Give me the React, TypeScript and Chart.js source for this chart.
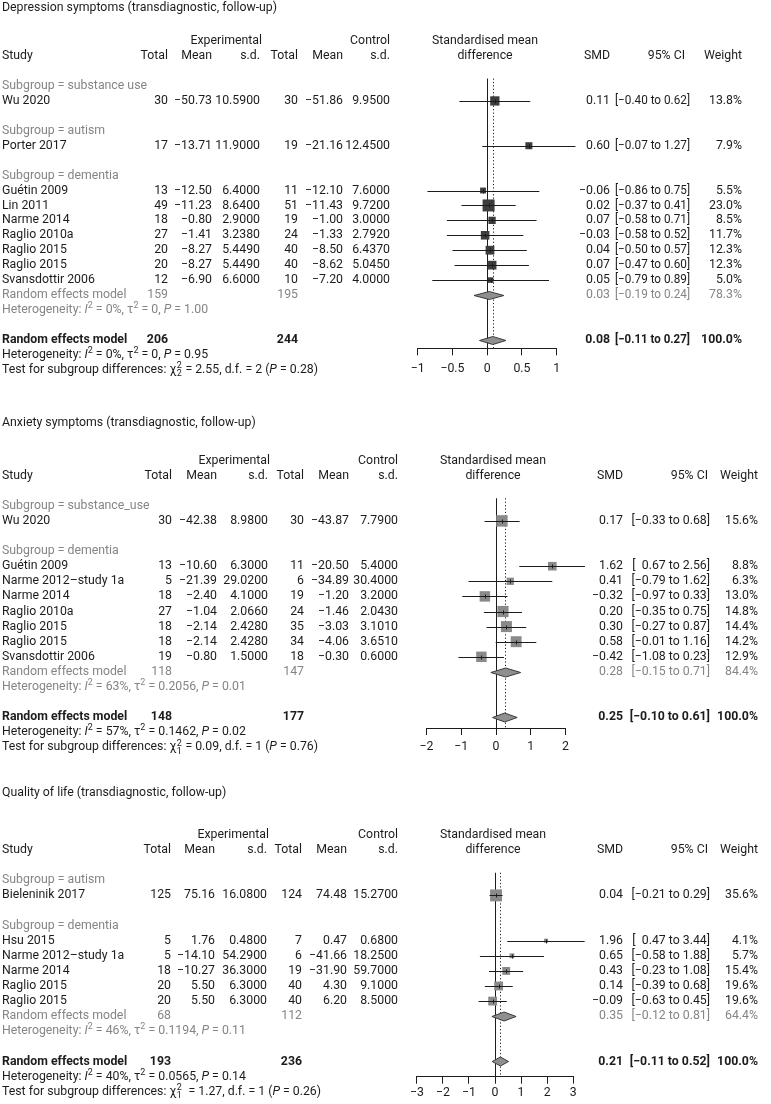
import React, { useEffect, useRef } from "react";
import { Chart, registerables } from "chart.js";
Chart.register(...registerables);

const FONT = "Roboto, 'Open Sans', sans-serif";
const FS = 12.3;
const BLACK = "#1c1c1c";
const GRAY = "#858585";

// ---------------- Depression symptoms ----------------
const depTitle = "Depression symptoms (transdiagnostic, follow-up)";
const depStudy = ["Wu 2020", "Porter 2017", "Guétin 2009", "Lin 2011", "Narme 2014", "Raglio 2010a", "Raglio 2015", "Raglio 2015", "Svansdottir 2006"];
const depGroup = ["substance use", "autism", "dementia", "dementia", "dementia", "dementia", "dementia", "dementia", "dementia"];
const depExpN = [30, 17, 13, 49, 18, 27, 20, 20, 12];
const depExpMean = [-50.73, -13.71, -12.5, -11.23, -0.8, -1.41, -8.27, -8.27, -6.9];
const depExpSD = [10.59, 11.9, 6.4, 8.64, 2.9, 3.238, 5.449, 5.449, 6.6];
const depCtlN = [30, 19, 11, 51, 19, 24, 40, 40, 10];
const depCtlMean = [-51.86, -21.16, -12.1, -11.43, -1.0, -1.33, -8.5, -8.62, -7.2];
const depCtlSD = [9.95, 12.45, 7.6, 9.72, 3.0, 2.792, 6.437, 5.045, 4.0];
const depSMD = [0.11, 0.6, -0.06, 0.02, 0.07, -0.03, 0.04, 0.07, 0.05];
const depLo = [-0.4, -0.07, -0.86, -0.37, -0.58, -0.58, -0.5, -0.47, -0.79];
const depHi = [0.62, 1.27, 0.75, 0.41, 0.71, 0.52, 0.57, 0.6, 0.89];
const depW = [13.8, 7.9, 5.5, 23.0, 8.5, 11.7, 12.3, 12.3, 5.0];
const depSubName = ["dementia"];
const depSubExpN = [159];
const depSubCtlN = [195];
const depSubSMD = [0.03];
const depSubLo = [-0.19];
const depSubHi = [0.24];
const depSubW = [78.3];
const depSubI2 = ["0%"];
const depSubTau2 = ["0"];
const depSubP = ["1.00"];
const depAll = [206, 244];
const depAllCI = [0.08, -0.11, 0.27, 100.0];
const depAllHet = ["0%", "0", "0.95"];
const depTest = ["2.55", "2", "0.28"];
const depTicks = [-1, -0.5, 0, 0.5, 1];

// ---------------- Anxiety symptoms ----------------
const anxTitle = "Anxiety symptoms (transdiagnostic, follow-up)";
const anxStudy = ["Wu 2020", "Guétin 2009", "Narme 2012\u2013study 1a", "Narme 2014", "Raglio 2010a", "Raglio 2015", "Raglio 2015", "Svansdottir 2006"];
const anxGroup = ["substance_use", "dementia", "dementia", "dementia", "dementia", "dementia", "dementia", "dementia"];
const anxExpN = [30, 13, 5, 18, 27, 18, 18, 19];
const anxExpMean = [-42.38, -10.6, -21.39, -2.4, -1.04, -2.14, -2.14, -0.8];
const anxExpSD = [8.98, 6.3, 29.02, 4.1, 2.066, 2.428, 2.428, 1.5];
const anxCtlN = [30, 11, 6, 19, 24, 35, 34, 18];
const anxCtlMean = [-43.87, -20.5, -34.89, -1.2, -1.46, -3.03, -4.06, -0.3];
const anxCtlSD = [7.79, 5.4, 30.4, 3.2, 2.043, 3.101, 3.651, 0.6];
const anxSMD = [0.17, 1.62, 0.41, -0.32, 0.2, 0.3, 0.58, -0.42];
const anxLo = [-0.33, 0.67, -0.79, -0.97, -0.35, -0.27, -0.01, -1.08];
const anxHi = [0.68, 2.56, 1.62, 0.33, 0.75, 0.87, 1.16, 0.23];
const anxW = [15.6, 8.8, 6.3, 13.0, 14.8, 14.4, 14.2, 12.9];
const anxSubName = ["dementia"];
const anxSubExpN = [118];
const anxSubCtlN = [147];
const anxSubSMD = [0.28];
const anxSubLo = [-0.15];
const anxSubHi = [0.71];
const anxSubW = [84.4];
const anxSubI2 = ["63%"];
const anxSubTau2 = ["0.2056"];
const anxSubP = ["0.01"];
const anxAll = [148, 177];
const anxAllCI = [0.25, -0.1, 0.61, 100.0];
const anxAllHet = ["57%", "0.1462", "0.02"];
const anxTest = ["0.09", "1", "0.76"];
const anxTicks = [-2, -1, 0, 1, 2];

// ---------------- Quality of life ----------------
const qolTitle = "Quality of life (transdiagnostic, follow-up)";
const qolStudy = ["Bieleninik 2017", "Hsu 2015", "Narme 2012\u2013study 1a", "Narme 2014", "Raglio 2015", "Raglio 2015"];
const qolGroup = ["autism", "dementia", "dementia", "dementia", "dementia", "dementia"];
const qolExpN = [125, 5, 5, 18, 20, 20];
const qolExpMean = [75.16, 1.76, -14.1, -10.27, 5.5, 5.5];
const qolExpSD = [16.08, 0.48, 54.29, 36.3, 6.3, 6.3];
const qolCtlN = [124, 7, 6, 19, 40, 40];
const qolCtlMean = [74.48, 0.47, -41.66, -31.9, 4.3, 6.2];
const qolCtlSD = [15.27, 0.68, 18.25, 59.7, 9.1, 8.5];
const qolSMD = [0.04, 1.96, 0.65, 0.43, 0.14, -0.09];
const qolLo = [-0.21, 0.47, -0.58, -0.23, -0.39, -0.63];
const qolHi = [0.29, 3.44, 1.88, 1.08, 0.68, 0.45];
const qolW = [35.6, 4.1, 5.7, 15.4, 19.6, 19.6];
const qolSubName = ["dementia"];
const qolSubExpN = [68];
const qolSubCtlN = [112];
const qolSubSMD = [0.35];
const qolSubLo = [-0.12];
const qolSubHi = [0.81];
const qolSubW = [64.4];
const qolSubI2 = ["46%"];
const qolSubTau2 = ["0.1194"];
const qolSubP = ["0.11"];
const qolAll = [193, 236];
const qolAllCI = [0.21, -0.11, 0.52, 100.0];
const qolAllHet = ["40%", "0.0565", "0.14"];
const qolTest = ["1.27", "1", "0.26"];
const qolTicks = [-3, -2, -1, 0, 1, 2, 3];

// ---------------- assembled tables ----------------
const PANELS = [
  { title: depTitle, study: depStudy, group: depGroup, eN: depExpN, eM: depExpMean, eSD: depExpSD, cN: depCtlN, cM: depCtlMean, cSD: depCtlSD, smd: depSMD, lo: depLo, hi: depHi, w: depW,
    subName: depSubName, subEN: depSubExpN, subCN: depSubCtlN, subSMD: depSubSMD, subLo: depSubLo, subHi: depSubHi, subW: depSubW, subI2: depSubI2, subTau2: depSubTau2, subP: depSubP,
    all: depAll, allCI: depAllCI, allHet: depAllHet, test: depTest, ticks: depTicks, testGap: "" },
  { title: anxTitle, study: anxStudy, group: anxGroup, eN: anxExpN, eM: anxExpMean, eSD: anxExpSD, cN: anxCtlN, cM: anxCtlMean, cSD: anxCtlSD, smd: anxSMD, lo: anxLo, hi: anxHi, w: anxW,
    subName: anxSubName, subEN: anxSubExpN, subCN: anxSubCtlN, subSMD: anxSubSMD, subLo: anxSubLo, subHi: anxSubHi, subW: anxSubW, subI2: anxSubI2, subTau2: anxSubTau2, subP: anxSubP,
    all: anxAll, allCI: anxAllCI, allHet: anxAllHet, test: anxTest, ticks: anxTicks, testGap: "" },
  { title: qolTitle, study: qolStudy, group: qolGroup, eN: qolExpN, eM: qolExpMean, eSD: qolExpSD, cN: qolCtlN, cM: qolCtlMean, cSD: qolCtlSD, smd: qolSMD, lo: qolLo, hi: qolHi, w: qolW,
    subName: qolSubName, subEN: qolSubExpN, subCN: qolSubCtlN, subSMD: qolSubSMD, subLo: qolSubLo, subHi: qolSubHi, subW: qolSubW, subI2: qolSubI2, subTau2: qolSubTau2, subP: qolSubP,
    all: qolAll, allCI: qolAllCI, allHet: qolAllHet, test: qolTest, ticks: qolTicks, testGap: " " },
];

// layout (pixels, absolute page coordinates)
const LAYOUTS = [
  { top: 0, height: 395, titleY: 8, row0: 86, unit: 14.93, axisY: 348.3, xL: 417.7, xR: 556.7, tickPad: 6,
    cols: [168, 212, 260, 298, 343, 390], smdHdrX: 485, smdX: 610, ciHdrX: 685, ciX: 690, wX: 742, box: 2.5, boxColor: "#3d3d3d", dH: 4 },
  { top: 395, height: 370, titleY: 423, row0: 505.8, unit: 15.1, axisY: 728, xL: 426.5, xR: 565.5, tickPad: 5,
    cols: [172, 217, 268, 304, 349, 398], smdHdrX: 493, smdX: 623, ciHdrX: 708, ciX: 710, wX: 758, box: 2.9, boxColor: "#8a8a8a", dH: 4.5 },
  { top: 765, height: 339, titleY: 793, row0: 880.3, unit: 15.1, axisY: 1076.7, xL: 416.85, xR: 573.15, tickPad: 2,
    cols: [171, 215, 267, 302, 347, 398], smdHdrX: 493, smdX: 623, ciHdrX: 708, ciX: 710, wX: 758, box: 2.0, boxColor: "#8a8a8a", dH: 4.5 },
];

const minus = (s: string) => s.replace(/-/g, "\u2212");
const f2 = (v: number) => minus(v.toFixed(2));
const f4 = (v: number) => minus(v.toFixed(4));
const fci = (lo: number, hi: number) => `[${lo >= 0 ? "\u2002" : ""}${f2(lo)} to ${f2(hi)}]`;
const fw = (w: number) => w.toFixed(1) + "%";

type Row =
  | { k: "group"; label: string }
  | { k: "study"; i: number }
  | { k: "blank" }
  | { k: "sub"; j: number }
  | { k: "subhet"; j: number }
  | { k: "all" }
  | { k: "allhet" }
  | { k: "test" };

function buildRows(groups: string[], subNames: string[]): Row[] {
  const order: string[] = [];
  groups.forEach((g) => { if (!order.includes(g)) order.push(g); });
  const rows: Row[] = [];
  order.forEach((g) => {
    rows.push({ k: "group", label: g });
    groups.forEach((gg, i) => { if (gg === g) rows.push({ k: "study", i }); });
    const j = subNames.indexOf(g);
    if (j >= 0) { rows.push({ k: "sub", j }); rows.push({ k: "subhet", j }); }
    rows.push({ k: "blank" });
  });
  rows.push({ k: "all" }, { k: "allhet" }, { k: "test" });
  return rows;
}

type Seg = { t?: string; it?: boolean; sup?: boolean; ss?: [string, string] };

function fontStr(size: number, bold = false, italic = false) {
  return `${italic ? "italic " : ""}${bold ? "bold " : ""}${size}px ${FONT}`;
}

function drawText(ctx: CanvasRenderingContext2D, text: string, x: number, y: number, align: CanvasTextAlign, color: string, bold = false, maxW?: number) {
  ctx.font = fontStr(FS, bold);
  ctx.fillStyle = color;
  ctx.textAlign = align;
  ctx.textBaseline = "middle";
  if (maxW) ctx.fillText(text, x, y, maxW);
  else ctx.fillText(text, x, y);
}

function drawRich(ctx: CanvasRenderingContext2D, segs: Seg[], x: number, y: number, color: string) {
  let cx = x;
  ctx.fillStyle = color;
  ctx.textAlign = "left";
  ctx.textBaseline = "middle";
  const small = Math.round(FS * 0.72);
  for (const s of segs) {
    if (s.ss) {
      ctx.font = fontStr(small);
      ctx.fillText(s.ss[0], cx + 0.5, y - FS * 0.33);
      ctx.fillText(s.ss[1], cx + 0.5, y + FS * 0.33);
      cx += Math.max(ctx.measureText(s.ss[0]).width, ctx.measureText(s.ss[1]).width) + 1;
    } else if (s.sup) {
      ctx.font = fontStr(small);
      ctx.fillText(s.t!, cx, y - FS * 0.33);
      cx += ctx.measureText(s.t!).width;
    } else {
      ctx.font = fontStr(FS, false, !!s.it);
      ctx.fillText(s.t!, cx, y);
      cx += ctx.measureText(s.t!).width;
    }
  }
}

const hetSegs = (i2: string, t2: string, p: string): Seg[] => [
  { t: "Heterogeneity: " }, { t: "I", it: true }, { t: "2", sup: true }, { t: ` = ${i2}, \u03c4` }, { t: "2", sup: true },
  { t: ` = ${t2}, ` }, { t: "P", it: true }, { t: ` = ${p}` },
];
const testSegs = (chi: string, df: string, p: string, gap: string): Seg[] => [
  { t: "Test for subgroup differences: \u03c7" }, { ss: ["2", df] }, { t: `${gap} = ${chi}, d.f. = ${df} (` }, { t: "P", it: true }, { t: ` = ${p})` },
];

function ForestPanel({ idx }: { idx: number }) {
  const ref = useRef<HTMLCanvasElement | null>(null);
  useEffect(() => {
    const P = PANELS[idx];
    const L = LAYOUTS[idx];
    const rows = buildRows(P.group, P.subName);
    const rowOf = (pred: (r: Row) => boolean) => rows.findIndex(pred);
    const yMax = (L.axisY - L.row0) / L.unit;
    const xMin = P.ticks[0];
    const xMax = P.ticks[P.ticks.length - 1];
    const AX_H = 24;
    const local = (abs: number) => abs - L.top;
    const ciMax = L.ciX - L.smdX - 5;

    const boxData = P.study.map((_, i) => ({ x: P.smd[i], y: rowOf((r) => r.k === "study" && r.i === i) }));
    const boxRadius = P.w.map((w) => (L.box * Math.sqrt(w)) / Math.SQRT2);

    const forestPlugin = {
      id: "forest",
      beforeDatasetsDraw(chart: any) {
        const { ctx, chartArea, scales } = chart;
        const xs = scales.x;
        ctx.save();
        const x0 = Math.round(xs.getPixelForValue(0)) + 0.5;
        ctx.strokeStyle = BLACK;
        ctx.lineWidth = 1;
        ctx.beginPath();
        ctx.moveTo(x0, chartArea.top);
        ctx.lineTo(x0, chartArea.bottom);
        ctx.stroke();
        const xe = Math.round(xs.getPixelForValue(P.allCI[0])) + 0.5;
        ctx.setLineDash([1.2, 2.2]);
        ctx.beginPath();
        ctx.moveTo(xe, chartArea.top);
        ctx.lineTo(xe, chartArea.bottom);
        ctx.stroke();
        ctx.restore();
      },
      afterDatasetsDraw(chart: any) {
        const { ctx, scales } = chart;
        const xs = scales.x;
        const ys = scales.y;
        ctx.save();
        ctx.strokeStyle = BLACK;
        ctx.lineWidth = 1;
        rows.forEach((r, ri) => {
          const y = Math.round(ys.getPixelForValue(ri)) + 0.5;
          if (r.k === "study") {
            const i = r.i;
            ctx.beginPath();
            ctx.moveTo(xs.getPixelForValue(P.lo[i]), y);
            ctx.lineTo(xs.getPixelForValue(P.hi[i]), y);
            const xm = Math.round(xs.getPixelForValue(P.smd[i])) + 0.5;
            ctx.moveTo(xm, y - 2);
            ctx.lineTo(xm, y + 2);
            ctx.stroke();
          } else if (r.k === "sub" || r.k === "all") {
            const est = r.k === "sub" ? P.subSMD[r.j] : P.allCI[0];
            const lo = r.k === "sub" ? P.subLo[r.j] : P.allCI[1];
            const hi = r.k === "sub" ? P.subHi[r.j] : P.allCI[2];
            ctx.beginPath();
            ctx.moveTo(xs.getPixelForValue(lo), y);
            ctx.lineTo(xs.getPixelForValue(est), y - L.dH);
            ctx.lineTo(xs.getPixelForValue(hi), y);
            ctx.lineTo(xs.getPixelForValue(est), y + L.dH);
            ctx.closePath();
            ctx.fillStyle = "#8f8f8f";
            ctx.fill();
            ctx.strokeStyle = "#3a3a3a";
            ctx.stroke();
            ctx.strokeStyle = BLACK;
          }
        });
        ctx.restore();
      },
      afterDraw(chart: any) {
        const { ctx, scales } = chart;
        const ys = scales.y;
        const C = L.cols;
        ctx.save();
        const yr = (r: number) => ys.getPixelForValue(r);
        drawText(ctx, P.title, 2, local(L.titleY), "left", BLACK);
        const h1 = yr(-3), h2 = yr(-2);
        drawText(ctx, "Experimental", C[2] + 2, h1, "right", BLACK);
        drawText(ctx, "Control", C[5], h1, "right", BLACK);
        drawText(ctx, "Standardised mean", L.smdHdrX, h1, "center", BLACK);
        drawText(ctx, "Study", 2, h2, "left", BLACK);
        drawText(ctx, "Total", C[0], h2, "right", BLACK);
        drawText(ctx, "Mean", C[1], h2, "right", BLACK);
        drawText(ctx, "s.d.", C[2], h2, "right", BLACK);
        drawText(ctx, "Total", C[3], h2, "right", BLACK);
        drawText(ctx, "Mean", C[4], h2, "right", BLACK);
        drawText(ctx, "s.d.", C[5], h2, "right", BLACK);
        drawText(ctx, "difference", L.smdHdrX, h2, "center", BLACK);
        drawText(ctx, "SMD", L.smdX, h2, "right", BLACK);
        drawText(ctx, "95% CI", L.ciHdrX, h2, "right", BLACK);
        drawText(ctx, "Weight", L.wX, h2, "right", BLACK);

        rows.forEach((r, ri) => {
          const y = yr(ri);
          if (r.k === "group") {
            drawText(ctx, `Subgroup = ${r.label}`, 2, y, "left", GRAY);
          } else if (r.k === "study") {
            const i = r.i;
            drawText(ctx, P.study[i], 2, y, "left", BLACK);
            drawText(ctx, String(P.eN[i]), C[0], y, "right", BLACK);
            drawText(ctx, f2(P.eM[i]), C[1], y, "right", BLACK);
            drawText(ctx, f4(P.eSD[i]), C[2], y, "right", BLACK);
            drawText(ctx, String(P.cN[i]), C[3], y, "right", BLACK);
            drawText(ctx, f2(P.cM[i]), C[4], y, "right", BLACK);
            drawText(ctx, f4(P.cSD[i]), C[5], y, "right", BLACK);
            drawText(ctx, f2(P.smd[i]), L.smdX, y, "right", BLACK);
            drawText(ctx, fci(P.lo[i], P.hi[i]), L.ciX, y, "right", BLACK, false, ciMax);
            drawText(ctx, fw(P.w[i]), L.wX, y, "right", BLACK);
          } else if (r.k === "sub") {
            const j = r.j;
            drawText(ctx, "Random effects model", 2, y, "left", GRAY);
            drawText(ctx, String(P.subEN[j]), C[0], y, "right", GRAY);
            drawText(ctx, String(P.subCN[j]), C[3], y, "right", GRAY);
            drawText(ctx, f2(P.subSMD[j]), L.smdX, y, "right", GRAY);
            drawText(ctx, fci(P.subLo[j], P.subHi[j]), L.ciX, y, "right", GRAY, false, ciMax);
            drawText(ctx, fw(P.subW[j]), L.wX, y, "right", GRAY);
          } else if (r.k === "subhet") {
            const j = r.j;
            drawRich(ctx, hetSegs(P.subI2[j], P.subTau2[j], P.subP[j]), 2, y, GRAY);
          } else if (r.k === "all") {
            drawText(ctx, "Random effects model", 2, y, "left", BLACK, true);
            drawText(ctx, String(P.all[0]), C[0], y, "right", BLACK, true);
            drawText(ctx, String(P.all[1]), C[3], y, "right", BLACK, true);
            drawText(ctx, f2(P.allCI[0]), L.smdX, y, "right", BLACK, true);
            drawText(ctx, fci(P.allCI[1], P.allCI[2]), L.ciX, y, "right", BLACK, true, ciMax);
            drawText(ctx, fw(P.allCI[3]), L.wX, y, "right", BLACK, true);
          } else if (r.k === "allhet") {
            drawRich(ctx, hetSegs(P.allHet[0], P.allHet[1], P.allHet[2]), 2, y, BLACK);
          } else if (r.k === "test") {
            drawRich(ctx, testSegs(P.test[0], P.test[1], P.test[2], P.testGap), 2, y, BLACK);
          }
        });
        ctx.restore();
      },
    };

    const chart = new Chart(ref.current as HTMLCanvasElement, {
      type: "scatter",
      data: {
        datasets: [
          {
            data: boxData,
            pointStyle: "rect",
            pointRadius: boxRadius,
            pointBackgroundColor: L.boxColor,
            pointBorderWidth: 0,
            backgroundColor: L.boxColor,
            borderWidth: 0,
            clip: false,
          } as any,
        ],
      },
      options: {
        responsive: false,
        maintainAspectRatio: false,
        animation: false,
        devicePixelRatio: 1,
        events: [],
        layout: {
          padding: {
            left: L.xL,
            right: 771 - L.xR,
            top: local(L.row0 - 0.5 * L.unit),
            bottom: L.height - local(L.axisY) - AX_H,
          },
        },
        plugins: { legend: { display: false }, tooltip: { enabled: false }, title: { display: false } },
        scales: {
          x: {
            type: "linear",
            position: "bottom",
            min: xMin,
            max: xMax,
            afterBuildTicks: (s: any) => { s.ticks = P.ticks.map((v) => ({ value: v })); },
            afterFit: (s: any) => { s.height = AX_H; },
            grid: { display: true, drawOnChartArea: false, drawTicks: true, tickLength: 7, color: BLACK, lineWidth: 1 },
            border: { display: true, color: BLACK, width: 1 },
            ticks: {
              color: BLACK,
              font: { family: FONT, size: FS },
              padding: L.tickPad,
              maxRotation: 0,
              autoSkip: false,
              callback: (v: any) => minus(String(v)),
            },
          },
          y: { type: "linear", display: false, min: -0.5, max: yMax, reverse: true },
        },
      } as any,
      plugins: [forestPlugin],
    });
    return () => chart.destroy();
  }, [idx]);
  const L = LAYOUTS[idx];
  return (
    <canvas
      ref={ref}
      width={771}
      height={L.height}
      style={{ position: "absolute", left: 0, top: L.top, width: 771, height: L.height }}
    />
  );
}

export default function App() {
  return (
    <div style={{ position: "absolute", left: 0, top: 0, width: 771, height: 1104, background: "#fff", overflow: "hidden" }}>
      <ForestPanel idx={0} />
      <ForestPanel idx={1} />
      <ForestPanel idx={2} />
    </div>
  );
}
